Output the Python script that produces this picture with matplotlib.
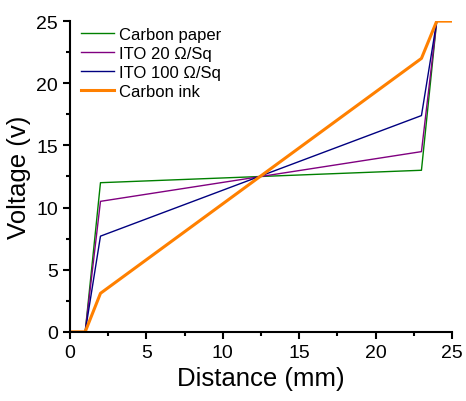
import matplotlib.pyplot as plt
from matplotlib.ticker import MultipleLocator

plt.rcParams['font.family'] = ['Liberation Sans', 'DejaVu Sans']

distance = [0, 1, 2, 23, 24, 25]
carbon_paper = [0, 0, 12.0, 13.0, 25, 25]
ito_20 = [0, 0, 10.5, 14.5, 25, 25]
ito_100 = [0, 0, 7.7, 17.4, 25, 25]
carbon_ink = [0, 0, 3.1, 22.0, 25, 25]

fig = plt.figure(figsize=(4.66, 4.02), dpi=100)
ax = fig.add_axes([0.150, 0.172, 0.820, 0.773])

ax.plot(distance, carbon_paper, color='#008000', lw=1, label='Carbon paper')
ax.plot(distance, ito_20, color='#800080', lw=1, label='ITO 20 \u03a9/Sq')
ax.plot(distance, ito_100, color='#000080', lw=1, label='ITO 100 \u03a9/Sq')
ax.plot(distance, carbon_ink, color='#ff8000', lw=2.2, label='Carbon ink')

ax.set_xlim(0, 25)
ax.set_ylim(0, 25)
ax.xaxis.set_major_locator(MultipleLocator(5))
ax.xaxis.set_minor_locator(MultipleLocator(2.5))
ax.yaxis.set_major_locator(MultipleLocator(5))
ax.yaxis.set_minor_locator(MultipleLocator(2.5))
ax.tick_params(which='major', direction='out', length=5, width=1.5, labelsize=14)
ax.tick_params(which='minor', direction='out', length=3, width=1.5)

for side in ['top', 'right']:
    ax.spines[side].set_visible(False)
for side in ['left', 'bottom']:
    ax.spines[side].set_linewidth(1.5)

ax.set_xlabel('Distance (mm)', fontsize=18.5)
ax.set_ylabel('Voltage (v)', fontsize=18.5)

ax.legend(loc='upper left', bbox_to_anchor=(-0.01, 1.03), frameon=False,
          fontsize=12, handlelength=2.0, labelspacing=0.25, handletextpad=0.3)

fig.savefig('out.png', dpi=100)
